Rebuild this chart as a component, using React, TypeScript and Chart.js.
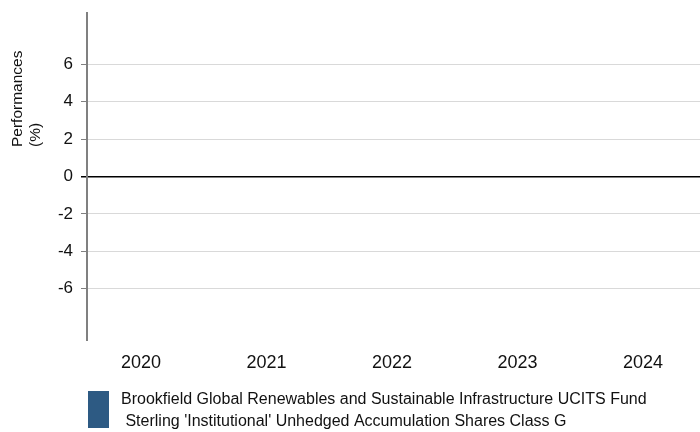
import React, { useEffect, useRef } from "react";
import { Chart, registerables } from "chart.js";

Chart.register(...registerables);

const categories = ["2020", "2021", "2022", "2023", "2024"];
const categoryPositions = [0, 1, 2, 3, 4];
const fundValues: (number | null)[] = [null, null, null, null, null];
const fundLabelLines = [
  "Brookfield Global Renewables and Sustainable Infrastructure UCITS Fund",
  " Sterling 'Institutional' Unhedged Accumulation Shares Class G",
];
const yTickValues = [-6, -4, -2, 0, 2, 4, 6];
const yTitleLines = ["Performances", "(%)"];

const FONT = '"Liberation Sans", Arial, Helvetica, sans-serif';
const FUND_COLOR = "#2d5a83";
const TEXT_COLOR = "#111111";

const yTitlePlugin = {
  id: "yTitleLeft",
  afterDraw(chart: any) {
    const ctx = chart.ctx as CanvasRenderingContext2D;
    const area = chart.chartArea;
    ctx.save();
    ctx.font = `15.5px ${FONT}`;
    ctx.fillStyle = TEXT_COLOR;
    ctx.textAlign = "left";
    ctx.textBaseline = "middle";
    yTitleLines.forEach((line, i) => {
      ctx.save();
      ctx.translate(18 + i * 18, area.top + 134);
      ctx.rotate(-Math.PI / 2);
      ctx.fillText(line, 0, 0);
      ctx.restore();
    });
    ctx.restore();
  },
};

const bottomLegendPlugin = {
  id: "bottomLegend",
  afterDraw(chart: any) {
    const ctx = chart.ctx as CanvasRenderingContext2D;
    const ds = chart.data.datasets[0];
    const x0 = chart.chartArea.left + 1;
    const top = chart.scales.x.bottom + 1;
    const boxW = 21;
    const boxH = 37;
    ctx.save();
    ctx.fillStyle = ds.backgroundColor;
    ctx.fillRect(x0, top, boxW, boxH);
    ctx.font = `16px ${FONT}`;
    ctx.fillStyle = TEXT_COLOR;
    ctx.textAlign = "left";
    ctx.textBaseline = "middle";
    String(ds.label)
      .split("\n")
      .forEach((line: string, i: number) => {
        ctx.fillText(line, x0 + boxW + 12, top + 9 + i * 22);
      });
    ctx.restore();
  },
};

export default function App() {
  const canvasRef = useRef<HTMLCanvasElement | null>(null);

  useEffect(() => {
    if (!canvasRef.current) return;
    const chart = new Chart(canvasRef.current, {
      type: "bar",
      data: {
        datasets: [
          {
            label: fundLabelLines.join("\n"),
            data: categoryPositions.map((x, i) => ({ x, y: fundValues[i] })) as any,
            backgroundColor: FUND_COLOR,
            borderWidth: 0,
          },
        ],
      },
      options: {
        animation: false,
        responsive: true,
        maintainAspectRatio: false,
        events: [],
        layout: { padding: { top: 13, right: 0, bottom: 42, left: 0 } },
        plugins: {
          legend: { display: false },
          tooltip: { enabled: false },
          title: { display: false },
        },
        scales: {
          x: {
            type: "linear",
            offset: false,
            min: -0.43,
            max: 4.454,
            afterFit: (axis: any) => {
              axis.height = 50;
              axis.paddingLeft = 0;
              axis.paddingRight = 0;
            },
            afterBuildTicks: (axis: any) => {
              axis.ticks = categoryPositions.map((v) => ({ value: v }));
            },
            grid: { display: false, drawTicks: false, offset: false },
            border: { display: false },
            ticks: {
              autoSkip: false,
              maxRotation: 0,
              padding: 12,
              color: TEXT_COLOR,
              font: { family: FONT, size: 18 },
              callback: (v: any) => categories[Number(v)] ?? "",
            },
          },
          y: {
            type: "linear",
            min: -8.75,
            max: 8.75,
            afterFit: (axis: any) => {
              axis.width = 87;
              axis.paddingTop = 0;
              axis.paddingBottom = 0;
            },
            afterBuildTicks: (axis: any) => {
              axis.ticks = yTickValues.map((v) => ({ value: v }));
            },
            grid: {
              color: (c: any) => (c.tick && c.tick.value === 0 ? "#000000" : "#d9d9d9"),
              lineWidth: (c: any) => (c.tick && c.tick.value === 0 ? 1.5 : 1),
              tickColor: (c: any) => (c.tick && c.tick.value === 0 ? "#000000" : "#808080"),
              tickLength: 6,
              drawTicks: true,
            },
            border: { display: true, color: "#808080", width: 2 },
            ticks: {
              padding: 8,
              color: TEXT_COLOR,
              font: { family: FONT, size: 17 },
              callback: (v: any) => String(v),
            },
          },
        },
      },
      plugins: [yTitlePlugin, bottomLegendPlugin],
    });
    return () => chart.destroy();
  }, []);

  return (
    <div style={{ position: "absolute", left: 0, top: 0, width: 700, height: 432, background: "#ffffff" }}>
      <canvas ref={canvasRef} />
    </div>
  );
}
